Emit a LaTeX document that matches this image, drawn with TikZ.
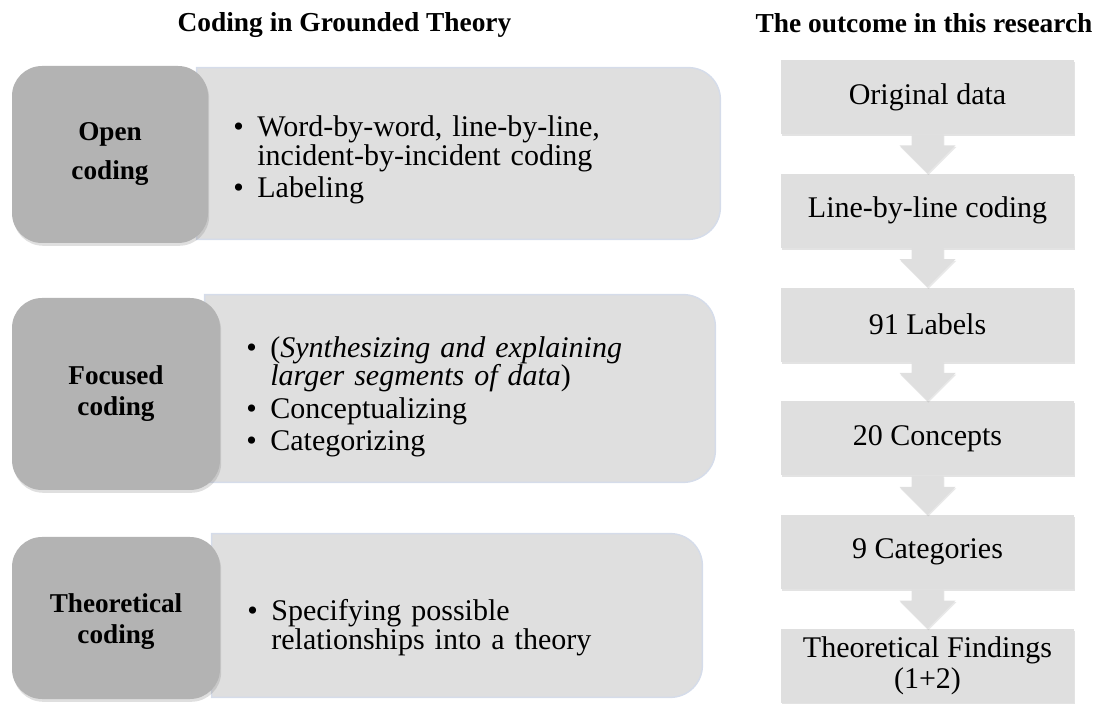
\documentclass[tikz,border=0pt]{standalone}
\usepackage{fontspec}
\setmainfont{Liberation Serif}
\usetikzlibrary{positioning,calc,shadows}

\definecolor{tabgray}{HTML}{B3B3B3}
\definecolor{panelgray}{HTML}{DFDFDF}
\definecolor{paneledge}{HTML}{D5DCEA}

\tikzset{
  stagebox/.style={rectangle, rounded corners=15pt, fill=tabgray, align=center,
    font=\bfseries\fontsize{13.6}{15.5}\selectfont,
    drop shadow={opacity=0.25, shadow xshift=0.6pt, shadow yshift=-1.4pt}},
  panelarea/.style={rectangle, inner sep=0pt},
  panel/.style={fill=panelgray, draw=paneledge, line width=0.7pt},
  bulletlist/.style={anchor=west, inner sep=0pt, text width=230pt,
    font=\fontsize{15}{14.3}\selectfont,
    execute at begin node={\raggedright\setlength{\parskip}{2pt}}},
  outbox/.style={rectangle, fill=panelgray, minimum width=146.5pt, minimum height=37pt,
    inner sep=2pt, align=center, font=\fontsize{15}{15.5}\selectfont,
    drop shadow={opacity=0.22, shadow xshift=0.6pt, shadow yshift=-1pt}},
  flowarrow/.style={fill=panelgray, drop shadow={opacity=0.18, shadow xshift=0.4pt, shadow yshift=-0.8pt}},
  heading/.style={anchor=base, font=\bfseries\fontsize{13.7}{16}\selectfont}
}

\newcommand{\bul}[1]{\par\hangindent=12pt\hangafter=1\noindent\makebox[12pt][l]{\textbullet}#1\par}

\begin{document}
\begin{tikzpicture}[x=0.5pt, y=-0.5pt]
\useasboundingbox (0,0) rectangle (1097,704);

% headings
\node[heading] (lefthead) at (344.5,32) {Coding in Grounded Theory};
\node[heading] (righthead) at (924,33) {The outcome in this research};

% light panels behind the stage boxes
\node[panelarea, minimum width=261.5pt, minimum height=85.5pt] (openpanel) at (458.5,153.5) {};
\node[panelarea, minimum width=255pt, minimum height=93.5pt] (focpanel) at (460,388.5) {};
\node[panelarea, minimum width=245pt, minimum height=81.5pt] (theopanel) at (457,615.5) {};
\foreach \p in {openpanel, focpanel, theopanel}
  \path[panel] (\p.south west) -- (\p.north west) -- ([xshift=-16pt]\p.north east)
    arc[start angle=90, end angle=0, radius=16pt] -- ([yshift=16pt]\p.south east)
    arc[start angle=0, end angle=-90, radius=16pt] -- cycle;

% stage boxes
\node[stagebox, minimum width=98pt, minimum height=88.5pt] (opencode) at (110,154.5) {Open\\[4pt]coding};
\node[stagebox, minimum width=104pt, minimum height=96pt] (foccode) at (116,394) {Focused\\coding};
\node[stagebox, minimum width=104pt, minimum height=81pt] (theocode) at (116,618) {\rule{0pt}{13pt}Theoretical\\coding};

% bullet texts
\node[bulletlist] (openlist) at (233,154) {\bul{Word-by-word, line-by-line,\newline incident-by-incident coding}\bul{Labeling}};
\node[bulletlist] (foclist) at (246,391) {\bul{(\textit{Synthesizing and explaining}\newline \textit{larger segments of data})}\bul{Conceptualizing}\bul{Categorizing}};
\node[bulletlist] (theolist) at (247,622) {\bul{Specifying possible\newline relationships into a theory}};

% outcome column
\node[outbox] (origdata) at (927.5,97) {Original data};
\node[outbox, below=19.5pt of origdata] (linecode) {Line-by-line coding};
\node[outbox, below=19.5pt of linecode] (labels) {91 Labels};
\node[outbox, below=19.5pt of labels] (concepts) {20 Concepts};
\node[outbox, below=19.5pt of concepts] (categories) {9 Categories};
\node[outbox, below=19.5pt of categories] (findings) {Theoretical Findings\\(1+2)};

\foreach \a/\b in {origdata/linecode, linecode/labels, labels/concepts, concepts/categories, categories/findings}
  \path[flowarrow] ($(\a.south)+(-8pt,0)$) -- ($(\b.north)+(-8pt,14pt)$) -- ($(\b.north)+(-14pt,14pt)$)
    -- (\b.north) -- ($(\b.north)+(14pt,14pt)$) -- ($(\b.north)+(8pt,14pt)$) -- ($(\a.south)+(8pt,0)$) -- cycle;
\end{tikzpicture}
\end{document}
